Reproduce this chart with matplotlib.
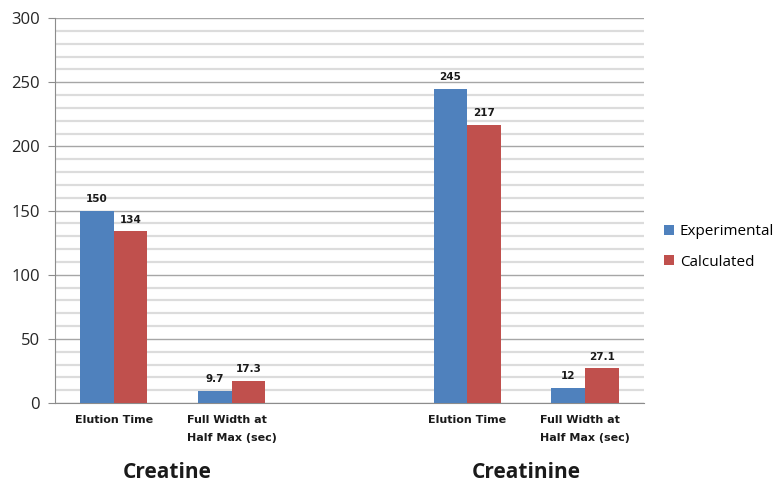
import matplotlib.pyplot as plt
import numpy as np

# Chromatography results: experimental vs calculated
compounds = ['Creatine', 'Creatinine']
measures = ['Elution Time', 'Full Width at\nHalf Max (sec)']
experimental = [150, 9.7, 245, 12]
calculated = [134, 17.3, 217, 27.1]
exp_labels = ['150', '9.7', '245', '12']
calc_labels = ['134', '17.3', '217', '27.1']

plt.rcParams['font.family'] = ['Open Sans', 'DejaVu Sans']

fig = plt.figure(figsize=(7.78, 4.86), dpi=100)
ax = fig.add_axes([0.0707, 0.1708, 0.757, 0.792])

# five slots, the middle one left empty to separate the compounds
x = np.array([0, 1, 3, 4])
w = 0.285
blue = '#4F81BD'
red = '#C0504D'
b1 = ax.bar(x - w / 2, experimental, w, color=blue, label='Experimental', zorder=3)
b2 = ax.bar(x + w / 2, calculated, w, color=red, label='Calculated', zorder=3)

for bars, labels in [(b1, exp_labels), (b2, calc_labels)]:
    for b, t in zip(bars, labels):
        ax.text(b.get_x() + b.get_width() / 2, b.get_height() + 5, t,
                ha='center', va='bottom', fontsize=7.5, fontweight='bold',
                color='#1a1a1a', family='DejaVu Sans')

ax.set_xlim(-0.5, 4.5)
ax.set_ylim(0, 300)
ax.set_yticks(range(0, 301, 50))
ax.set_yticks(range(0, 301, 10), minor=True)
ax.yaxis.grid(True, which='major', color='#A6A6A6', lw=1.0, zorder=0)
ax.yaxis.grid(True, which='minor', color='#DCDCDC', lw=1.6, zorder=0)
ax.tick_params(axis='y', which='major', labelsize=12, length=5, color='#8C8C8C',
               labelcolor='#262626', pad=6)
ax.tick_params(axis='y', which='minor', length=0)

ax.set_xticks(x)
ax.set_xticklabels(measures * 2, fontsize=8, fontweight='bold', color='#1a1a1a',
                   family='DejaVu Sans', linespacing=1.9, va='top', multialignment='left')
ax.tick_params(axis='x', length=0, pad=9)

for s in ['top', 'right']:
    ax.spines[s].set_visible(False)
for s in ['left', 'bottom']:
    ax.spines[s].set_color('#8C8C8C')

# compound names under each pair of categories
for name, pos in zip(compounds, [0.45, 3.5]):
    ax.text(pos, -0.18, name, transform=ax.get_xaxis_transform(), ha='center', va='center',
            fontsize=15, fontweight='bold', color='#1a1a1a')

ax.legend(loc='center left', bbox_to_anchor=(1.01, 0.405), frameon=False, fontsize=11,
          handlelength=0.65, handleheight=0.65, handletextpad=0.4, labelspacing=1.0)

fig.savefig('out.png', dpi=100)
